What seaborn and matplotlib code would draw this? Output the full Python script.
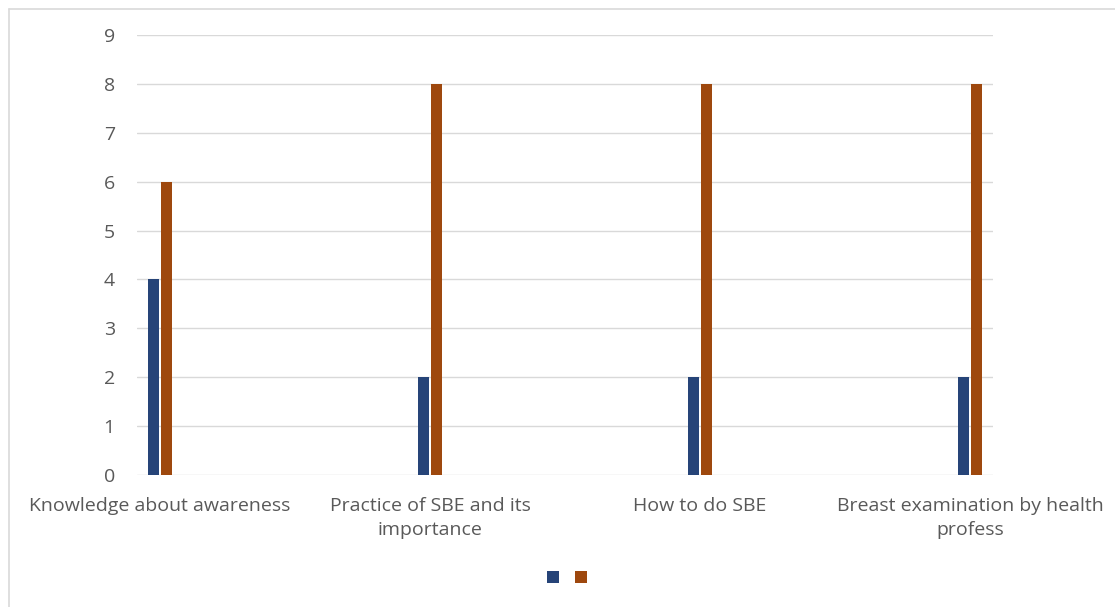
import matplotlib
matplotlib.use("Agg")
import matplotlib.pyplot as plt
from matplotlib.patches import Patch
from matplotlib.lines import Line2D
import seaborn as sns
import pandas as pd

# Survey topics and counts per group
categories = [
    "Knowledge about awareness",
    "Practice of SBE and its\nimportance",
    "How to do SBE",
    "Breast examination by health\nprofess",
]
series_names = ["Group 1", "Group 2"]
group1 = [4, 2, 2, 2]
group2 = [6, 8, 8, 8]
y_ticks = list(range(0, 10))

colors = ["#264478", "#9E480E"]

df = pd.DataFrame({
    "topic": categories * 2,
    "series": [series_names[0]] * len(categories) + [series_names[1]] * len(categories),
    "count": group1 + group2,
})

sns.set_theme(style="white")
plt.rcParams["font.family"] = ["Open Sans", "DejaVu Sans"]

fig = plt.figure(figsize=(11.15, 6.07), dpi=100)
ax = fig.add_axes([0.1229, 0.2175, 0.8906 - 0.1229, 0.9423 - 0.2175])

sns.barplot(
    data=df, x="topic", y="count", hue="series",
    order=categories, hue_order=series_names,
    palette=colors, width=0.096, gap=0.15,
    saturation=1, errorbar=None, legend=False, ax=ax,
)
for p in ax.patches:
    p.set_linewidth(0)

# Category pitch is wider than the gridline span; the last label overhangs
ax.set_xlim(-0.0852, 3.085)
ax.set_ylim(0, 9)
ax.set_yticks(y_ticks)
ax.yaxis.grid(True, color="#D9D9D9", linewidth=1.0)
ax.set_axisbelow(True)
for s in ax.spines.values():
    s.set_visible(False)
ax.tick_params(axis="both", length=0, labelcolor="#595959", labelsize=14)
ax.tick_params(axis="y", pad=16)
ax.tick_params(axis="x", pad=16)
for lbl in ax.get_xticklabels():
    lbl.set_linespacing(1.45)
ax.set_xlabel("")
ax.set_ylabel("")

handles = [Patch(facecolor=c, edgecolor="none") for c in colors]
fig.legend(handles, ["", ""], loc="center", bbox_to_anchor=(567 / 1115, 1 - 579 / 607),
           ncol=2, frameon=False, handlelength=0.62, handleheight=0.62,
           handletextpad=0.0, columnspacing=0.82, fontsize=14)

# Outer frame lines (left and top)
fig.add_artist(Line2D([8.5 / 1115, 8.5 / 1115], [0, 1 - 8.5 / 607], color="#D9D9D9", lw=1.2,
                      transform=fig.transFigure))
fig.add_artist(Line2D([8.5 / 1115, 1], [1 - 8.5 / 607, 1 - 8.5 / 607], color="#D9D9D9", lw=1.2,
                      transform=fig.transFigure))

fig.savefig("out.png", dpi=100, facecolor="white")
